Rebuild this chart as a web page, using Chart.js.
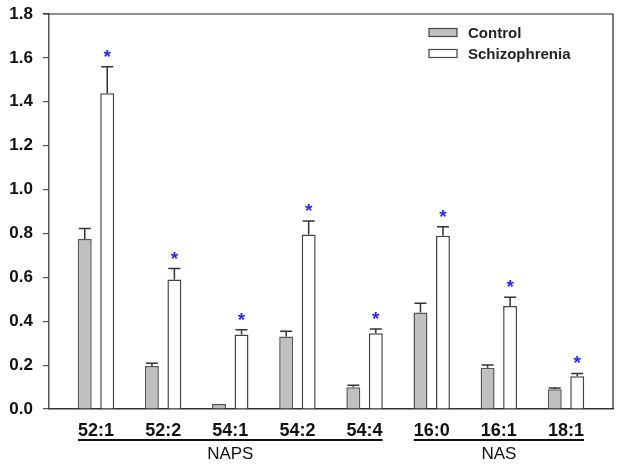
<!DOCTYPE html>
<html>
<head>
<meta charset="utf-8">
<script src="https://cdn.jsdelivr.net/npm/chart.js@4.4.1/dist/chart.umd.min.js"></script>
<style>
  html, body { margin: 0; padding: 0; background: #fff; }
  #wrap { width: 621px; height: 470px; }
</style>
</head>
<body>
<div id="wrap"><canvas id="chart" width="621" height="470"></canvas></div>
<script>
const categories = ['52:1', '52:2', '54:1', '54:2', '54:4', '16:0', '16:1', '18:1'];
const groups = [
  { name: 'NAPS', from: 0, to: 4 },
  { name: 'NAS', from: 5, to: 7 }
];
const controlValues = [0.775, 0.196, 0.023, 0.33, 0.099, 0.44, 0.188, 0.09];
const controlErrors = [0.047, 0.012, 0, 0.024, 0.009, 0.042, 0.012, 0.006];
const schizoValues = [1.439, 0.59, 0.34, 0.795, 0.345, 0.79, 0.469, 0.149];
const schizoErrors = [0.121, 0.05, 0.021, 0.062, 0.02, 0.041, 0.04, 0.013];
const schizoStars = [true, true, true, true, true, true, true, true];
const yTicks = [0, 0.2, 0.4, 0.6, 0.8, 1.0, 1.2, 1.4, 1.6, 1.8];

const FONT = '"Liberation Sans", Arial, sans-serif';

// upper error bars + significance stars
const errorBars = {
  id: 'errorBars',
  afterDatasetsDraw(chart) {
    const ctx = chart.ctx;
    const y = chart.scales.y;
    chart.data.datasets.forEach((ds, di) => {
      const meta = chart.getDatasetMeta(di);
      meta.data.forEach((bar, i) => {
        const err = ds.errors[i];
        const top = y.getPixelForValue(ds.data[i].y + err);
        ctx.save();
        ctx.strokeStyle = '#333';
        ctx.lineWidth = 1.5;
        if (err > 0) {
          ctx.beginPath();
          ctx.moveTo(bar.x, bar.y);
          ctx.lineTo(bar.x, top);
          ctx.moveTo(bar.x - 6, top);
          ctx.lineTo(bar.x + 6, top);
          ctx.stroke();
        }
        if (ds.stars && ds.stars[i]) {
          ctx.fillStyle = '#2b2bf0';
          ctx.font = 'bold 19px ' + FONT;
          ctx.textAlign = 'center';
          ctx.textBaseline = 'alphabetic';
          ctx.fillText('*', bar.x, top - 15 + 11);
        }
        ctx.restore();
      });
    });
  }
};

// frame, group underlines, group names, legend
const decorations = {
  id: 'decorations',
  afterDraw(chart) {
    const ctx = chart.ctx;
    const a = chart.chartArea;
    const x = chart.scales.x;
    ctx.save();
    ctx.strokeStyle = '#222';
    ctx.lineWidth = 1.2;
    ctx.beginPath();
    ctx.moveTo(a.left - 6, a.top);
    ctx.lineTo(a.right, a.top);
    ctx.lineTo(a.right, a.bottom);
    ctx.stroke();

    ctx.font = 'bold 18px ' + FONT;
    groups.forEach(g => {
      const w0 = ctx.measureText(categories[g.from]).width;
      const w1 = ctx.measureText(categories[g.to]).width;
      const x0 = x.getPixelForValue(g.from) - w0 / 2;
      const x1 = x.getPixelForValue(g.to) + w1 / 2;
      ctx.strokeStyle = '#111';
      ctx.lineWidth = 2;
      ctx.beginPath();
      ctx.moveTo(x0, 440);
      ctx.lineTo(x1, 440);
      ctx.stroke();
      ctx.save();
      ctx.font = '17px ' + FONT;
      ctx.fillStyle = '#111';
      ctx.textAlign = 'center';
      ctx.textBaseline = 'middle';
      ctx.fillText(g.name, (x0 + x1) / 2, 454);
      ctx.restore();
    });

    // legend
    const items = chart.data.datasets;
    items.forEach((ds, i) => {
      const by = 28.5 + i * 21;
      ctx.fillStyle = ds.backgroundColor;
      ctx.strokeStyle = '#444';
      ctx.lineWidth = 1.2;
      ctx.fillRect(429, by, 28, 8);
      ctx.strokeRect(429, by, 28, 8);
      ctx.fillStyle = '#222';
      ctx.font = 'bold 15px ' + FONT;
      ctx.textAlign = 'left';
      ctx.textBaseline = 'middle';
      ctx.fillText(ds.label, 468, by + 5);
    });
    ctx.restore();
  }
};

new Chart(document.getElementById('chart'), {
  type: 'bar',
  data: {
    datasets: [
      {
        label: 'Control',
        data: controlValues.map((v, i) => ({ x: i, y: v })),
        errors: controlErrors,
        backgroundColor: '#c0c0c0',
        borderColor: '#555',
        borderWidth: 1.5,
        categoryPercentage: 0.67,
        barPercentage: 0.62
      },
      {
        label: 'Schizophrenia',
        data: schizoValues.map((v, i) => ({ x: i, y: v })),
        errors: schizoErrors,
        stars: schizoStars,
        backgroundColor: '#ffffff',
        borderColor: '#444',
        borderWidth: 1.5,
        categoryPercentage: 0.67,
        barPercentage: 0.62
      }
    ]
  },
  options: {
    responsive: false,
    animation: false,
    layout: { padding: { top: 14, right: 8, left: 0, bottom: 0 } },
    plugins: {
      legend: { display: false },
      tooltip: { enabled: false }
    },
    scales: {
      x: {
        type: 'linear',
        offset: false,
        min: -0.7,
        max: 7.7,
        afterBuildTicks: s => { s.ticks = categories.map((c, i) => ({ value: i })); },
        afterFit: s => { s.height = 61; s.paddingLeft = 0; s.paddingRight = 0; },
        grid: { display: false, drawTicks: false },
        border: { color: '#333', width: 1.5 },
        ticks: {
          autoSkip: false,
          maxRotation: 0,
          padding: 11,
          color: '#111',
          font: { family: FONT, size: 18, weight: 'bold' },
          callback: v => categories[v]
        }
      },
      y: {
        min: 0,
        max: 1.8,
        afterBuildTicks: s => { s.ticks = yTicks.map(v => ({ value: v })); },
        afterFit: s => { s.width = 49; s.paddingTop = 0; s.paddingBottom = 0; },
        grid: { drawOnChartArea: false, drawTicks: true, tickLength: 6, color: '#555', lineWidth: 1.2 },
        border: { color: '#555', width: 1.5 },
        ticks: {
          padding: 10,
          color: '#111',
          font: { family: FONT, size: 17, weight: 'bold' },
          callback: v => v.toFixed(1)
        }
      }
    }
  },
  plugins: [errorBars, decorations]
});
</script>
</body>
</html>
